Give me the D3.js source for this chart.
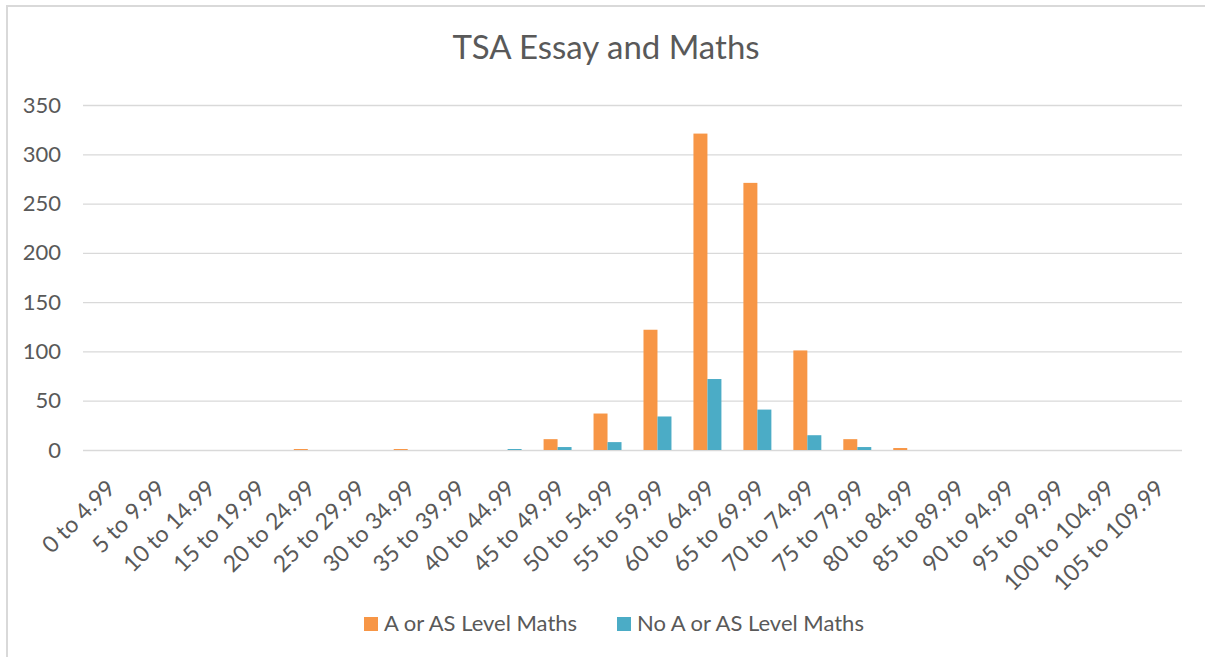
<!DOCTYPE html>
<html>
<head>
<meta charset="utf-8">
<script src="https://cdn.jsdelivr.net/npm/d3@7.9.0/dist/d3.min.js"></script>
<style>
  body { margin: 0; background: #fff; }
  text { font-family: Lato, "Open Sans", sans-serif; fill: #595959; }
</style>
</head>
<body>
<div id="chart"></div>
<script>
// score bands on the x axis
const categories = [
  '0 to 4.99', '5 to 9.99', '10 to 14.99', '15 to 19.99', '20 to 24.99',
  '25 to 29.99', '30 to 34.99', '35 to 39.99', '40 to 44.99', '45 to 49.99',
  '50 to 54.99', '55 to 59.99', '60 to 64.99', '65 to 69.99', '70 to 74.99',
  '75 to 79.99', '80 to 84.99', '85 to 89.99', '90 to 94.99', '95 to 99.99',
  '100 to 104.99', '105 to 109.99'
];
const seriesNames = ['A or AS Level Maths', 'No A or AS Level Maths'];
const withMaths    = [0, 0, 0, 0, 1, 0, 1, 0, 0, 11, 37, 122, 321, 271, 101, 11, 2, 0, 0, 0, 0, 0];
const withoutMaths = [0, 0, 0, 0, 0, 0, 0, 0, 1, 3, 8, 34, 72, 41, 15, 3, 0, 0, 0, 0, 0, 0];
const yTicks = [0, 50, 100, 150, 200, 250, 300, 350];
const colors = ['#F79646', '#4BACC6'];

const width = 1205;
const height = 657;
const plot = { left: 83, right: 1182, top: 105, bottom: 450 };

const svg = d3.select('#chart')
  .append('svg')
  .attr('width', width)
  .attr('height', height);

// chart frame (only the top/left edges are in view)
svg.append('rect')
  .attr('x', 7).attr('y', 6)
  .attr('width', 1240).attr('height', 700)
  .attr('fill', 'none')
  .attr('stroke', '#d9d9d9')
  .attr('stroke-width', 2);

const xScale = d3.scaleBand()
  .domain(categories)
  .range([plot.left, plot.right])
  .padding(0);

const bw = xScale.bandwidth();
const groupW = bw * 0.56;
const xInner = d3.scaleBand()
  .domain(d3.range(seriesNames.length))
  .range([(bw - groupW) / 2, (bw + groupW) / 2]);

const yScale = d3.scaleLinear()
  .domain([0, 350])
  .range([plot.bottom, plot.top]);

// gridlines
svg.append('g')
  .attr('transform', `translate(${plot.left},0)`)
  .call(d3.axisLeft(yScale).tickValues(yTicks).tickFormat('').tickSize(-(plot.right - plot.left)))
  .call((g) => g.select('.domain').remove())
  .call((g) => g.selectAll('line').attr('stroke', '#d9d9d9').attr('stroke-width', 1.3));

// y axis labels
svg.append('g')
  .attr('transform', `translate(${plot.left},0)`)
  .call(d3.axisLeft(yScale).tickValues(yTicks).tickSize(0).tickPadding(22))
  .call((g) => g.select('.domain').remove())
  .call((g) => g.selectAll('text')
    .style('font-size', '22px')
    .attr('fill', '#595959'));

// bars
const rows = categories.map((c, i) => ({ cat: c, values: [withMaths[i], withoutMaths[i]] }));

svg.append('g')
  .selectAll('g')
  .data(rows)
  .join('g')
  .attr('transform', (d) => `translate(${xScale(d.cat)},0)`)
  .selectAll('rect')
  .data((d) => d.values.map((v, s) => ({ v, s })))
  .join('rect')
  .attr('x', (d) => xInner(d.s))
  .attr('width', xInner.bandwidth())
  .attr('y', (d) => yScale(d.v))
  .attr('height', (d) => yScale(0) - yScale(d.v))
  .attr('fill', (d) => colors[d.s]);

// x axis labels, rotated
const xAxis = svg.append('g')
  .attr('transform', `translate(0,${plot.bottom})`)
  .call(d3.axisBottom(xScale).tickSize(0).tickPadding(0))
  .call((g) => g.select('.domain').remove());

xAxis.selectAll('.tick text')
  .style('font-size', '23px')
  .attr('fill', '#595959')
  .attr('text-anchor', 'end')
  .attr('dy', '0.35em')
  .attr('y', 0)
  .attr('transform', 'translate(3,34) rotate(-45)');

// title
svg.append('text')
  .attr('x', 606)
  .attr('y', 59)
  .attr('text-anchor', 'middle')
  .style('font-size', '33px')
  .text('TSA Essay and Maths');

// legend
const legendItems = [
  { name: seriesNames[0], x: 364, color: colors[0] },
  { name: seriesNames[1], x: 617, color: colors[1] }
];
const legend = svg.append('g').selectAll('g')
  .data(legendItems)
  .join('g')
  .attr('transform', (d) => `translate(${d.x},617)`);
legend.append('rect')
  .attr('width', 14).attr('height', 14)
  .attr('fill', (d) => d.color);
legend.append('text')
  .attr('x', 20)
  .attr('y', 14)
  .style('font-size', '22px')
  .text((d) => d.name);
</script>
</body>
</html>
